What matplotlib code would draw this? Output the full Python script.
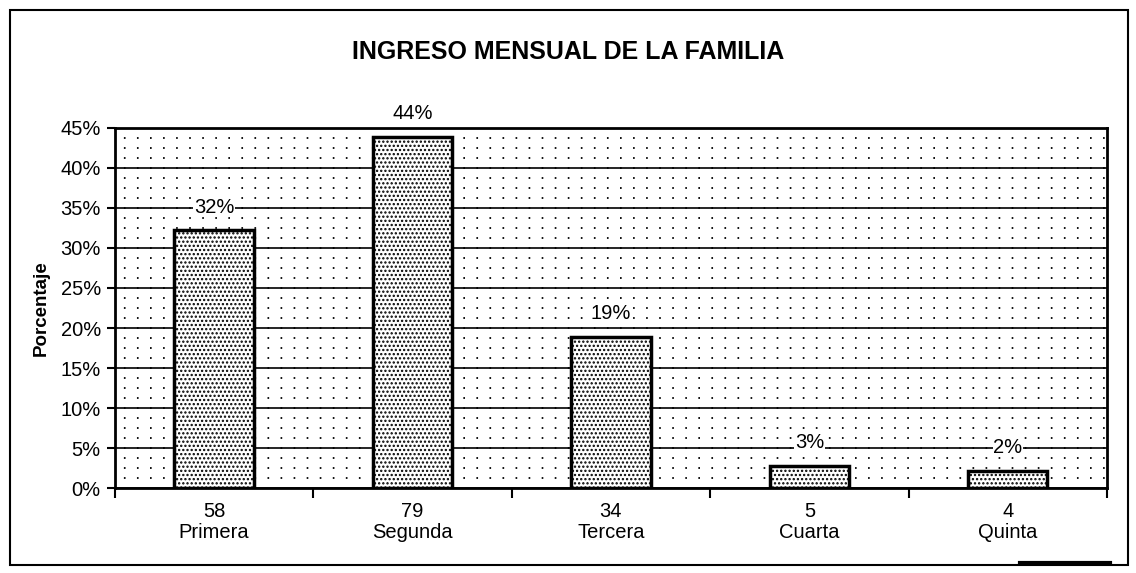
import matplotlib.pyplot as plt
from matplotlib.patches import Rectangle
import matplotlib as mpl
import numpy as np

plt.rcParams['font.family'] = ['Liberation Sans', 'DejaVu Sans']
mpl.rcParams['lines.scale_dashes'] = False
mpl.rcParams['hatch.linewidth'] = 1.1

categories = ["Primera", "Segunda", "Tercera", "Cuarta", "Quinta"]
counts = [58, 79, 34, 5, 4]
percent = [32.2, 43.9, 18.9, 2.8, 2.2]
yticks = [0, 5, 10, 15, 20, 25, 30, 35, 40, 45]

fig = plt.figure(figsize=(11.36, 5.73), dpi=100)
fig.patch.set_facecolor("white")
fig.patches.append(Rectangle((0.009, 0.014), 0.984, 0.968, transform=fig.transFigure,
                             fill=False, edgecolor="black", linewidth=1.5))

pos = [0.101, 0.148, 0.8735, 0.629]

# dotted background pattern of the plot area
bg = fig.add_axes(pos, zorder=0)
bg.set_xlim(0, 1)
bg.set_ylim(0, 45)
bg.set_xticks([])
bg.set_yticks(np.arange(1.25, 45, 1.25))
bg.tick_params(axis="y", length=0, labelleft=False)
bg.yaxis.grid(True, color="black", linewidth=1.3, linestyle=(3, (1.2, 8.2)))
for s in bg.spines.values():
    s.set_visible(False)

ax = fig.add_axes(pos, zorder=1)
ax.patch.set_visible(False)

x = range(len(categories))
bars = ax.bar(x, percent, width=0.4, facecolor="white", edgecolor="black",
              linewidth=2.5, hatch="....", zorder=3)

for xi, p in zip(x, percent):
    ax.text(xi, p + 2.9, f"{p:.0f}%", ha="center", va="center", fontsize=14.5,
            bbox=dict(facecolor="white", edgecolor="none", pad=0.5), zorder=4)

ax.set_xlim(-0.5, len(categories) - 0.5)
ax.set_ylim(0, 45)
ax.set_yticks(yticks)
ax.set_yticklabels([f"{v}%" for v in yticks], fontsize=14.5)
ax.yaxis.grid(True, color="black", linewidth=1.2, zorder=1)
ax.set_axisbelow(True)

ax.set_xticks([i - 0.5 for i in range(len(categories) + 1)])
ax.set_xticklabels([])
ax.set_xticks(list(x), minor=True)
ax.set_xticklabels([f"{n}\n{c}" for n, c in zip(counts, categories)], minor=True,
                   fontsize=14.5, linespacing=1.1)
ax.tick_params(axis="x", which="minor", length=0, pad=10)
ax.tick_params(axis="x", which="major", length=7, width=1.5, direction="out")
ax.tick_params(axis="y", length=6, width=1.5, direction="out", pad=4)

for s in ax.spines.values():
    s.set_linewidth(2)

ax.set_ylabel("Porcentaje", fontsize=13.5, fontweight="bold", labelpad=8)
fig.text(0.5, 0.909, "INGRESO MENSUAL DE LA FAMILIA", ha="center", va="center",
         fontsize=18, fontweight="bold")

fig.add_artist(plt.Line2D([0.898, 0.977], [0.018, 0.018], color="black", linewidth=3))

fig.savefig("out.png", dpi=100)
